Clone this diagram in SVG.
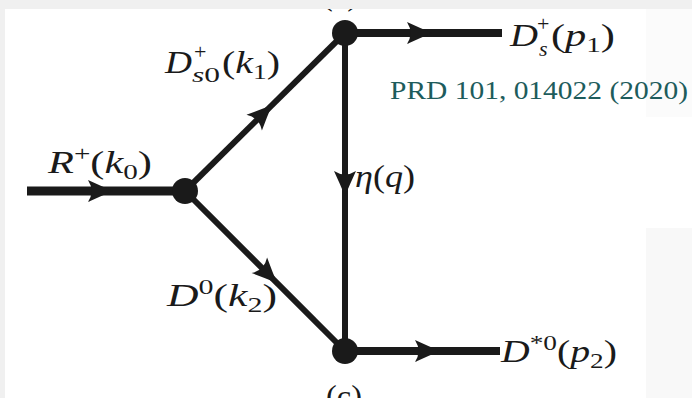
<svg xmlns="http://www.w3.org/2000/svg" width="692" height="398" viewBox="0 0 692 398">
<style>
.ln{stroke:#1a1a1a;fill:none}
.vx{fill:#1a1a1a}
.ar{fill:#1a1a1a}
.t{font-family:"Liberation Serif","DejaVu Serif",serif;font-size:32px;fill:#1a1a1a}
.i{font-style:italic}
.s{font-size:22px}
.ref{font-family:"Liberation Serif","DejaVu Serif",serif;font-size:25px;fill:#1d5c5c}
</style>
<defs>
<path id="arr" d="M0,0 Q-12,-5 -25,-11 Q-18,0 -25,11 Q-12,5 0,0 Z"/>
</defs>
<rect x="0" y="0" width="692" height="398" fill="#ffffff"/>
<rect x="646" y="9" width="46" height="108" fill="#fbfbfb"/>
<rect x="646" y="228" width="46" height="170" fill="#f8f8f8"/>
<g id="connectors">
<line class="ln" x1="27" y1="191" x2="185" y2="191" stroke-width="9"/>
<line class="ln" x1="345" y1="33" x2="502" y2="33" stroke-width="8"/>
<line class="ln" x1="345" y1="351" x2="500" y2="351" stroke-width="8"/>
<line class="ln" x1="185" y1="191" x2="345" y2="33" stroke-width="6"/>
<line class="ln" x1="185" y1="191" x2="345" y2="351" stroke-width="6"/>
<line class="ln" x1="345" y1="33" x2="345" y2="351" stroke-width="6"/>
<use href="#arr" class="ar" transform="translate(113,191)"/>
<use href="#arr" class="ar" transform="translate(432,33)"/>
<use href="#arr" class="ar" transform="translate(440,351)"/>
<use href="#arr" class="ar" transform="translate(345,196) rotate(90)"/>
<use href="#arr" class="ar" transform="translate(272,105) rotate(-44.6)"/>
<use href="#arr" class="ar" transform="translate(277,283) rotate(45)"/>
</g>
<g id="vertex-left"><circle class="vx" cx="185" cy="191" r="13"/></g>
<g id="vertex-top"><circle class="vx" cx="345" cy="33" r="13"/><text class="t" x="322" y="5" textLength="36" lengthAdjust="spacingAndGlyphs">(a)</text></g>
<g id="vertex-bottom"><circle class="vx" cx="345" cy="351" r="13"/><text class="t" x="326" y="407" textLength="36" lengthAdjust="spacingAndGlyphs">(c)</text></g>
<g id="label-R">
<text class="t" x="48" y="173" textLength="104" lengthAdjust="spacingAndGlyphs"><tspan class="i">R</tspan><tspan class="s" dy="-12">+</tspan><tspan dy="12">(</tspan><tspan class="i">k</tspan><tspan class="s" dy="6">0</tspan><tspan dy="-6">)</tspan></text>
</g>
<g id="label-Ds0">
<text class="t i" x="165" y="73" textLength="27" lengthAdjust="spacingAndGlyphs">D</text>
<text class="t s" x="194" y="59">+</text>
<text class="t s" x="192" y="82" textLength="28" lengthAdjust="spacingAndGlyphs"><tspan class="i">s</tspan>0</text>
<text class="t" x="222" y="73" textLength="58" lengthAdjust="spacingAndGlyphs">(<tspan class="i">k</tspan><tspan class="s" dy="6">1</tspan><tspan dy="-6">)</tspan></text>
</g>
<g id="label-eta">
<text class="t" x="355" y="187" textLength="60" lengthAdjust="spacingAndGlyphs"><tspan class="i">η</tspan>(<tspan class="i">q</tspan>)</text>
</g>
<g id="label-D0">
<text class="t" x="167" y="306" textLength="110" lengthAdjust="spacingAndGlyphs"><tspan class="i">D</tspan><tspan class="s" dy="-12">0</tspan><tspan dy="12">(</tspan><tspan class="i">k</tspan><tspan class="s" dy="6">2</tspan><tspan dy="-6">)</tspan></text>
</g>
<g id="label-Ds">
<text class="t i" x="510" y="46" textLength="28" lengthAdjust="spacingAndGlyphs">D</text>
<text class="t s" x="537" y="31">+</text>
<text class="t s i" x="539" y="56">s</text>
<text class="t" x="551" y="46" textLength="64" lengthAdjust="spacingAndGlyphs">(<tspan class="i">p</tspan><tspan class="s" dy="6">1</tspan><tspan dy="-6">)</tspan></text>
</g>
<g id="label-Dstar">
<text class="t" x="501" y="362" textLength="116" lengthAdjust="spacingAndGlyphs"><tspan class="i">D</tspan><tspan class="s" dy="-12">*0</tspan><tspan dy="12">(</tspan><tspan class="i">p</tspan><tspan class="s" dy="6">2</tspan><tspan dy="-6">)</tspan></text>
</g>
<g id="citation">
<text class="ref" x="390" y="99" textLength="298" lengthAdjust="spacingAndGlyphs">PRD 101, 014022 (2020)</text>
</g>
<rect x="0" y="0" width="692" height="9" fill="#f0f0f0"/>
<rect x="0" y="0" width="5" height="398" fill="#f0f0f0"/>
</svg>
